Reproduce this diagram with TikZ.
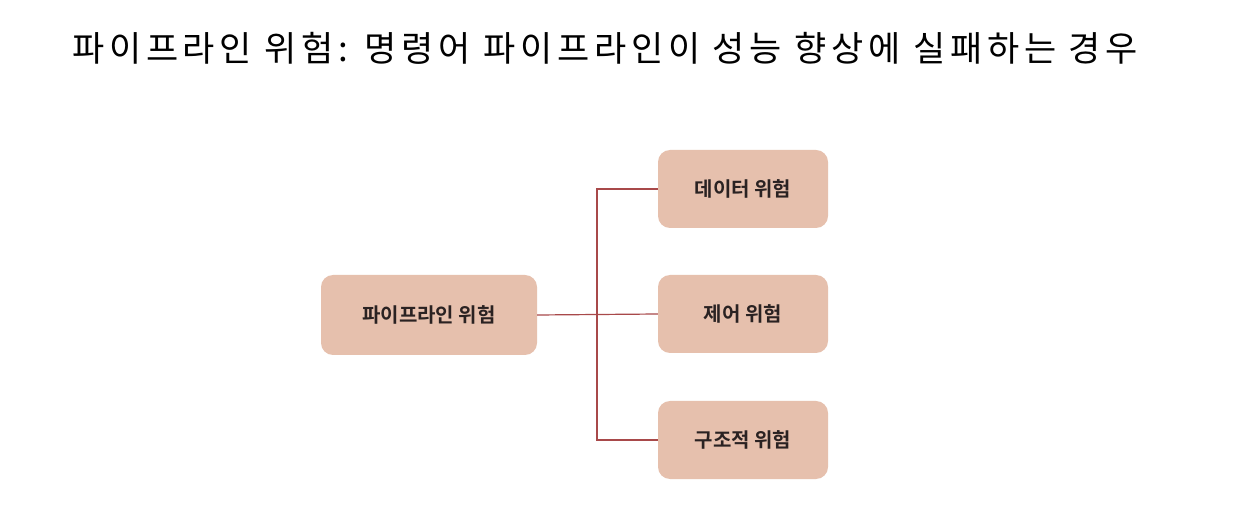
\documentclass[tikz,border=0pt]{standalone}
\usepackage{fontspec}
\newfontfamily\kr[LetterSpace=13.5]{Noto Sans CJK KR}
\newfontfamily\krb{Noto Sans CJK KR Bold}
\definecolor{boxfill}{HTML}{E6C0AD}
\definecolor{linkred}{HTML}{A8494A}
\definecolor{txt}{HTML}{2A2222}
\begin{document}
\begin{tikzpicture}[x=1pt,y=-1pt,
  hbox/.style={fill=boxfill, rounded corners=12pt, inner sep=0pt, text=txt, font=\krb\fontsize{20}{24}\selectfont},
  link/.style={draw=linkred, line width=1.2pt}]
\useasboundingbox (0,0) rectangle (1256,518);
\fill[white] (0,0) rectangle (1256,518);
\node[anchor=west, inner sep=0pt, font=\kr\fontsize{35}{40}\selectfont] (title) at (72,48) {파이프라인 위험: 명령어 파이프라인이 성능 향상에 실패하는 경우};
\node[hbox, minimum width=216pt, minimum height=80pt] (root) at (429,315) {파이프라인 위험};
\node[hbox, minimum width=170pt, minimum height=78pt] (data) at (743,189) {데이터 위험};
\node[hbox, minimum width=170pt, minimum height=78pt] (ctrl) at (743,314) {제어 위험};
\node[hbox, minimum width=170pt, minimum height=78pt] (struct) at (743,440) {구조적 위험};
\coordinate (trunk) at (597,315);
\draw[link] (root.east) -- (ctrl.west);
\draw[link] (data.west) -- (trunk |- data.west) -- (trunk |- struct.west) -- (struct.west);
\end{tikzpicture}
\end{document}
